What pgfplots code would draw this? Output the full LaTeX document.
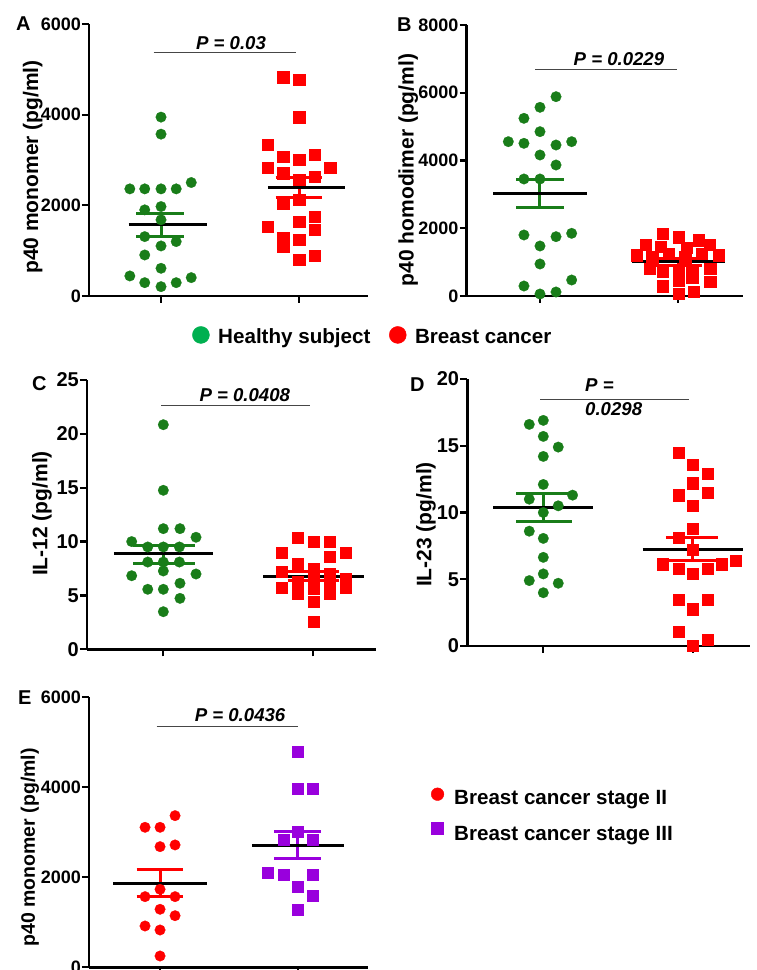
\documentclass[border=0pt]{standalone}
\usepackage{pgfplots}
\pgfplotsset{compat=1.18}
\usepackage{fontspec}
\setmainfont{Liberation Sans}
\definecolor{dgreen}{RGB}{25,125,25}
\definecolor{lgreen}{RGB}{0,176,80}
\definecolor{bred}{RGB}{255,0,0}
\definecolor{bpurple}{RGB}{153,0,221}
\definecolor{pgray}{RGB}{70,70,70}
\tikzset{ptxt/.style={font=\bfseries\itshape\fontsize{18.6}{18.6}\selectfont}}
\pgfplotsset{
  gp/.style={
    scale only axis, anchor=south west, clip=false,
    axis x line*=bottom, axis y line*=left,
    axis line style={line width=2.6pt,-},
    tick style={line width=2.2pt, black},
    tick align=outside, major tick length=7pt,
    xtick={1,2}, xticklabels={},
    /pgf/number format/assume math mode=true,
    /pgf/number format/1000 sep={},
    yticklabel style={inner xsep=1pt},
    every axis y label/.style={rotate=90, anchor=center, font=\bfseries\fontsize{21}{21}\selectfont},
  },
  legimg/.style={legend image code/.code={\draw[##1] plot coordinates {(0pt,#1)};}},
  gmark/.style={only marks, mark=*, mark size=5.3pt, dgreen, mark options={line width=0.2pt}},
  rsq/.style={only marks, mark=square*, mark size=5.6pt, bred, mark options={line width=0.2pt}},
  rci/.style={only marks, mark=*, mark size=5.3pt, bred, mark options={line width=0.2pt}},
  psq/.style={only marks, mark=square*, mark size=5.5pt, bpurple, mark options={line width=0.2pt}},
}
\begin{document}
\begin{tikzpicture}
\useasboundingbox (0pt,0pt) rectangle (757pt,970pt);
% ---------------- A ----------------
\begin{axis}[gp, at={(89pt,674pt)}, width=279pt, height=272pt,
  xmin=0.478, xmax=2.5, ymin=0, ymax=6000, ytick={0,2000,4000,6000},
  yticklabel style={font=\bfseries\fontsize{18}{18}\selectfont},
  ylabel={p40 monomer (pg/ml)}, ylabel style={at={(axis description cs:-0.202,0.474)}},
  legend style={at={(axis description cs:0.370,-0.1467)}, anchor=west, draw=none, fill=none,
    inner sep=0pt, legend columns=2, cells={anchor=west}, nodes={inner sep=0pt},
    font=\bfseries\fontsize{20.6}{24}\selectfont,
    /tikz/every odd column/.append style={column sep=8.8pt},
    /tikz/every even column/.append style={column sep=18.8pt}},
  ]
\addlegendimage{mark=*, mark size=8.5pt, lgreen, legimg=2.2pt}
\addlegendentry{Healthy subject}
\addlegendimage{mark=*, mark size=8.5pt, bred, legimg=2.2pt}
\addlegendentry{Breast cancer}
\addplot[gmark] coordinates {(1.000,3946) (1.000,3570) (1.219,2503) (0.774,2363) (0.882,2363) (1.000,2363) (1.110,2363) (1.000,1973) (0.882,1900) (1.000,1680) (0.882,1310) (1.110,1200) (1.000,1104) (0.882,905) (1.000,611) (0.774,442) (1.219,405) (0.882,294) (1.110,294) (1.000,206)};
\addplot[rsq] coordinates {(1.885,4829) (2.000,4770) (2.000,3946) (1.772,3335) (1.885,3077) (2.000,3004) (2.113,3114) (1.772,2834) (2.226,2834) (1.885,2709) (2.113,2636) (2.000,2562) (1.885,2047) (2.000,2120) (2.113,1752) (2.000,1642) (2.113,1458) (1.772,1531) (1.885,1296) (2.000,1237) (1.885,1090) (2.000,795) (2.113,883)};
\addplot[dgreen, line width=3pt] coordinates {(1,1318) (1,1818)};
\addplot[dgreen, line width=3pt] coordinates {(0.82,1818) (1.17,1818)};
\addplot[dgreen, line width=3pt] coordinates {(0.82,1318) (1.17,1318)};
\addplot[black, line width=3pt] coordinates {(0.765,1568) (1.33,1568)};
\addplot[bred, line width=3pt] coordinates {(2,2173) (2,2613)};
\addplot[bred, line width=3pt] coordinates {(1.83,2613) (2.17,2613)};
\addplot[bred, line width=3pt] coordinates {(1.83,2173) (2.17,2173)};
\addplot[black, line width=3pt] coordinates {(1.775,2393) (2.335,2393)};
\addplot[pgray, line width=1pt] coordinates {(0.947,5382) (1.98,5382)};
\node[ptxt, anchor=base] at (axis cs:1.507,5442) {P = 0.03};
\end{axis}
% ---------------- B ----------------
\begin{axis}[gp, at={(466.7pt,674pt)}, width=276.3pt, height=271pt,
  xmin=0.47, xmax=2.468, ymin=0, ymax=8000, ytick={0,2000,4000,6000,8000},
  yticklabel style={font=\bfseries\fontsize{18}{18}\selectfont},
  ylabel={p40 homodimer (pg/ml)}, ylabel style={at={(axis description cs:-0.212,0.465)}},
  ]
\addplot[gmark] coordinates {(1.116,5884) (1.000,5570) (0.884,5245) (1.000,4851) (0.771,4556) (0.884,4507) (1.116,4457) (1.229,4556) (1.000,4162) (1.116,3867) (0.884,3454) (1.000,3454) (0.884,1801) (1.116,1751) (1.229,1850) (1.000,1476) (1.000,945) (1.229,472) (0.884,295) (1.000,59) (1.116,118)};
\addplot[rsq] coordinates {(1.884,1850) (2.000,1740) (2.145,1650) (1.762,1510) (2.229,1510) (1.870,1450) (2.060,1420) (1.700,1210) (1.930,1260) (2.170,1260) (2.290,1210) (1.810,1150) (2.050,1150) (1.790,820) (1.885,720) (2.000,720) (2.100,720) (2.230,820) (2.000,470) (2.100,560) (2.230,420) (1.884,295) (2.000,79) (2.110,128)};
\addplot[dgreen, line width=3pt] coordinates {(1,2611) (1,3451)};
\addplot[dgreen, line width=3pt] coordinates {(0.83,3451) (1.17,3451)};
\addplot[dgreen, line width=3pt] coordinates {(0.83,2611) (1.17,2611)};
\addplot[black, line width=3pt] coordinates {(0.663,3031) (1.337,3031)};
\addplot[bred, line width=3pt] coordinates {(2,913) (2,1113)};
\addplot[bred, line width=3pt] coordinates {(1.83,1113) (2.17,1113)};
\addplot[bred, line width=3pt] coordinates {(1.83,913) (2.17,913)};
\addplot[black, line width=3pt] coordinates {(1.665,1013) (2.337,1013)};
\addplot[pgray, line width=1pt] coordinates {(0.966,6672) (1.993,6672)};
\node[ptxt, anchor=base] at (axis cs:1.571,6819) {P = 0.0229};
\end{axis}
% ---------------- C ----------------
\begin{axis}[gp, at={(87pt,320.7pt)}, width=289pt, height=269.3pt,
  xmin=0.491, xmax=2.418, ymin=0, ymax=25, ytick={0,5,10,15,20,25},
  yticklabel style={font=\bfseries\fontsize{20}{20}\selectfont},
  ylabel={IL-12 (pg/ml)}, ylabel style={at={(axis description cs:-0.156,0.504)}},
  ]
\addplot[gmark] coordinates {(1.000,20.85) (1.000,14.76) (1.000,11.2) (1.111,11.2) (0.789,10.0) (1.218,10.4) (0.896,9.5) (1.000,9.5) (1.107,9.5) (0.896,8.1) (1.000,8.1) (1.107,8.1) (0.789,6.83) (1.000,7.27) (1.218,6.99) (0.896,5.57) (1.000,5.57) (1.111,6.13) (1.111,4.73) (1.000,3.49)};
\addplot[rsq] coordinates {(1.896,10.4) (2.000,10.0) (2.107,10.0) (1.789,9.0) (2.216,9.0) (2.107,8.6) (1.896,7.9) (2.000,7.5) (1.789,7.2) (2.107,7.0) (2.000,6.8) (2.216,6.6) (1.896,6.3) (2.107,6.0) (1.789,5.7) (2.216,5.7) (2.000,5.6) (1.896,5.2) (2.107,5.2) (2.000,4.4) (2.000,2.6)};
\addplot[dgreen, line width=3pt] coordinates {(1,8.0) (1,9.68)};
\addplot[dgreen, line width=3pt] coordinates {(0.80,9.68) (1.21,9.68)};
\addplot[dgreen, line width=3pt] coordinates {(0.80,8.0) (1.21,8.0)};
\addplot[black, line width=3pt] coordinates {(0.67,8.85) (1.33,8.85)};
\addplot[bred, line width=3pt] coordinates {(2,6.4) (2,7.2)};
\addplot[bred, line width=3pt] coordinates {(1.83,7.2) (2.17,7.2)};
\addplot[bred, line width=3pt] coordinates {(1.83,6.4) (2.17,6.4)};
\addplot[black, line width=3pt] coordinates {(1.665,6.8) (2.335,6.8)};
\addplot[pgray, line width=1pt] coordinates {(0.985,22.6) (1.98,22.6)};
\node[ptxt, anchor=base] at (axis cs:1.543,22.99) {P = 0.0408};
\end{axis}
% ---------------- D ----------------
\begin{axis}[gp, at={(467.3pt,324pt)}, width=282.7pt, height=267pt,
  xmin=0.491, xmax=2.384, ymin=0, ymax=20, ytick={0,5,10,15,20},
  yticklabel style={font=\bfseries\fontsize{20}{20}\selectfont},
  ylabel={IL-23 (pg/ml)}, ylabel style={at={(axis description cs:-0.146,0.455)}},
  ]
\addplot[gmark] coordinates {(0.906,16.6) (1.000,16.9) (1.000,15.7) (1.100,14.9) (1.000,14.2) (1.000,12.1) (0.906,11.0) (1.196,11.3) (1.100,10.5) (1.000,10.0) (0.906,8.6) (1.000,8.06) (1.000,6.64) (0.906,4.9) (1.000,5.4) (1.100,4.7) (1.000,3.99)};
\addplot[rsq] coordinates {(1.904,14.5) (2.000,13.6) (2.098,12.9) (2.000,12.2) (1.904,11.3) (2.098,11.5) (2.000,10.5) (2.000,8.8) (1.904,8.1) (2.000,7.2) (1.800,6.14) (1.904,5.82) (2.000,5.44) (2.098,5.82) (2.194,6.14) (2.290,6.39) (1.904,3.45) (2.000,2.77) (2.098,3.5) (1.904,1.07) (2.000,0.0) (2.098,0.45)};
\addplot[dgreen, line width=3pt] coordinates {(1,9.29) (1,11.43)};
\addplot[dgreen, line width=3pt] coordinates {(0.82,11.43) (1.19,11.43)};
\addplot[dgreen, line width=3pt] coordinates {(0.82,9.29) (1.19,9.29)};
\addplot[black, line width=3pt] coordinates {(0.665,10.36) (1.335,10.36)};
\addplot[bred, line width=3pt] coordinates {(2,6.37) (2,8.11)};
\addplot[bred, line width=3pt] coordinates {(1.82,8.11) (2.17,8.11)};
\addplot[bred, line width=3pt] coordinates {(1.82,6.37) (2.17,6.37)};
\addplot[black, line width=3pt] coordinates {(1.665,7.24) (2.335,7.24)};
\addplot[pgray, line width=1pt] coordinates {(0.978,18.5) (1.978,18.5)};
\node[ptxt, anchor=base west] at (axis cs:1.257,19.05) {P =};
\node[ptxt, anchor=base west] at (axis cs:1.257,17.23) {0.0298};
\end{axis}
% ---------------- E ----------------
\begin{axis}[gp, at={(89pt,2.7pt)}, width=278.7pt, height=270pt,
  xmin=0.484, xmax=2.508, ymin=0, ymax=6000, ytick={0,2000,4000,6000},
  yticklabel style={font=\bfseries\fontsize{18}{18}\selectfont},
  ylabel={p40 monomer (pg/ml)}, ylabel style={at={(axis description cs:-0.212,0.444)}, font=\bfseries\fontsize{19.5}{19.5}\selectfont},
  legend style={at={(axis description cs:1.2271,0.6654)}, anchor=north west, draw=none, fill=none,
    inner sep=0pt, cells={anchor=west}, nodes={inner sep=0pt}, row sep=15.7pt,
    font=\bfseries\fontsize{20.6}{24}\selectfont,
    /tikz/every odd column/.append style={column sep=10.3pt}},
  ]
\addlegendimage{mark=*, mark size=6.35pt, bred, legimg=4.1pt}
\addlegendentry{Breast cancer stage II}
\addlegendimage{mark=square*, mark size=6pt, bpurple, legimg=6.5pt}
\addlegendentry{Breast cancer stage III}
\addplot[rci] coordinates {(1.109,3370) (0.891,3111) (1.000,3111) (1.000,2681) (1.109,2719) (1.000,1733) (0.891,1570) (1.109,1570) (1.000,1289) (1.109,1147) (0.891,918) (1.000,829) (1.000,251)};
\addplot[psq] coordinates {(2.000,4793) (2.000,3963) (2.107,3963) (2.000,3015) (1.896,2830) (2.107,2830) (1.782,2104) (1.896,2052) (2.107,2052) (2.000,1793) (2.107,1585) (2.000,1274)};
\addplot[bred, line width=3pt] coordinates {(1,1571) (1,2163)};
\addplot[bred, line width=3pt] coordinates {(0.83,2163) (1.17,2163)};
\addplot[bred, line width=3pt] coordinates {(0.83,1571) (1.17,1571)};
\addplot[black, line width=3pt] coordinates {(0.66,1867) (1.34,1867)};
\addplot[bpurple, line width=3pt] coordinates {(2,2407) (2,3015)};
\addplot[bpurple, line width=3pt] coordinates {(1.83,3015) (2.17,3015)};
\addplot[bpurple, line width=3pt] coordinates {(1.83,2407) (2.17,2407)};
\addplot[black, line width=3pt] coordinates {(1.666,2704) (2.339,2704)};
\addplot[pgray, line width=1pt] coordinates {(0.976,5347) (2.003,5347)};
\node[ptxt, anchor=base] at (axis cs:1.581,5473) {P = 0.0436};
\end{axis}
% panel letters
\node[anchor=base west, inner sep=0pt, font=\bfseries\fontsize{20}{20}\selectfont] at (16pt,939.5pt) {A};
\node[anchor=base west, inner sep=0pt, font=\bfseries\fontsize{20}{20}\selectfont] at (397pt,938.5pt) {B};
\node[anchor=base west, inner sep=0pt, font=\bfseries\fontsize{20}{20}\selectfont] at (32pt,579pt) {C};
\node[anchor=base west, inner sep=0pt, font=\bfseries\fontsize{20}{20}\selectfont] at (410pt,578.3pt) {D};
\node[anchor=base west, inner sep=0pt, font=\bfseries\fontsize{20}{20}\selectfont] at (18pt,265pt) {E};
\end{tikzpicture}
\end{document}
